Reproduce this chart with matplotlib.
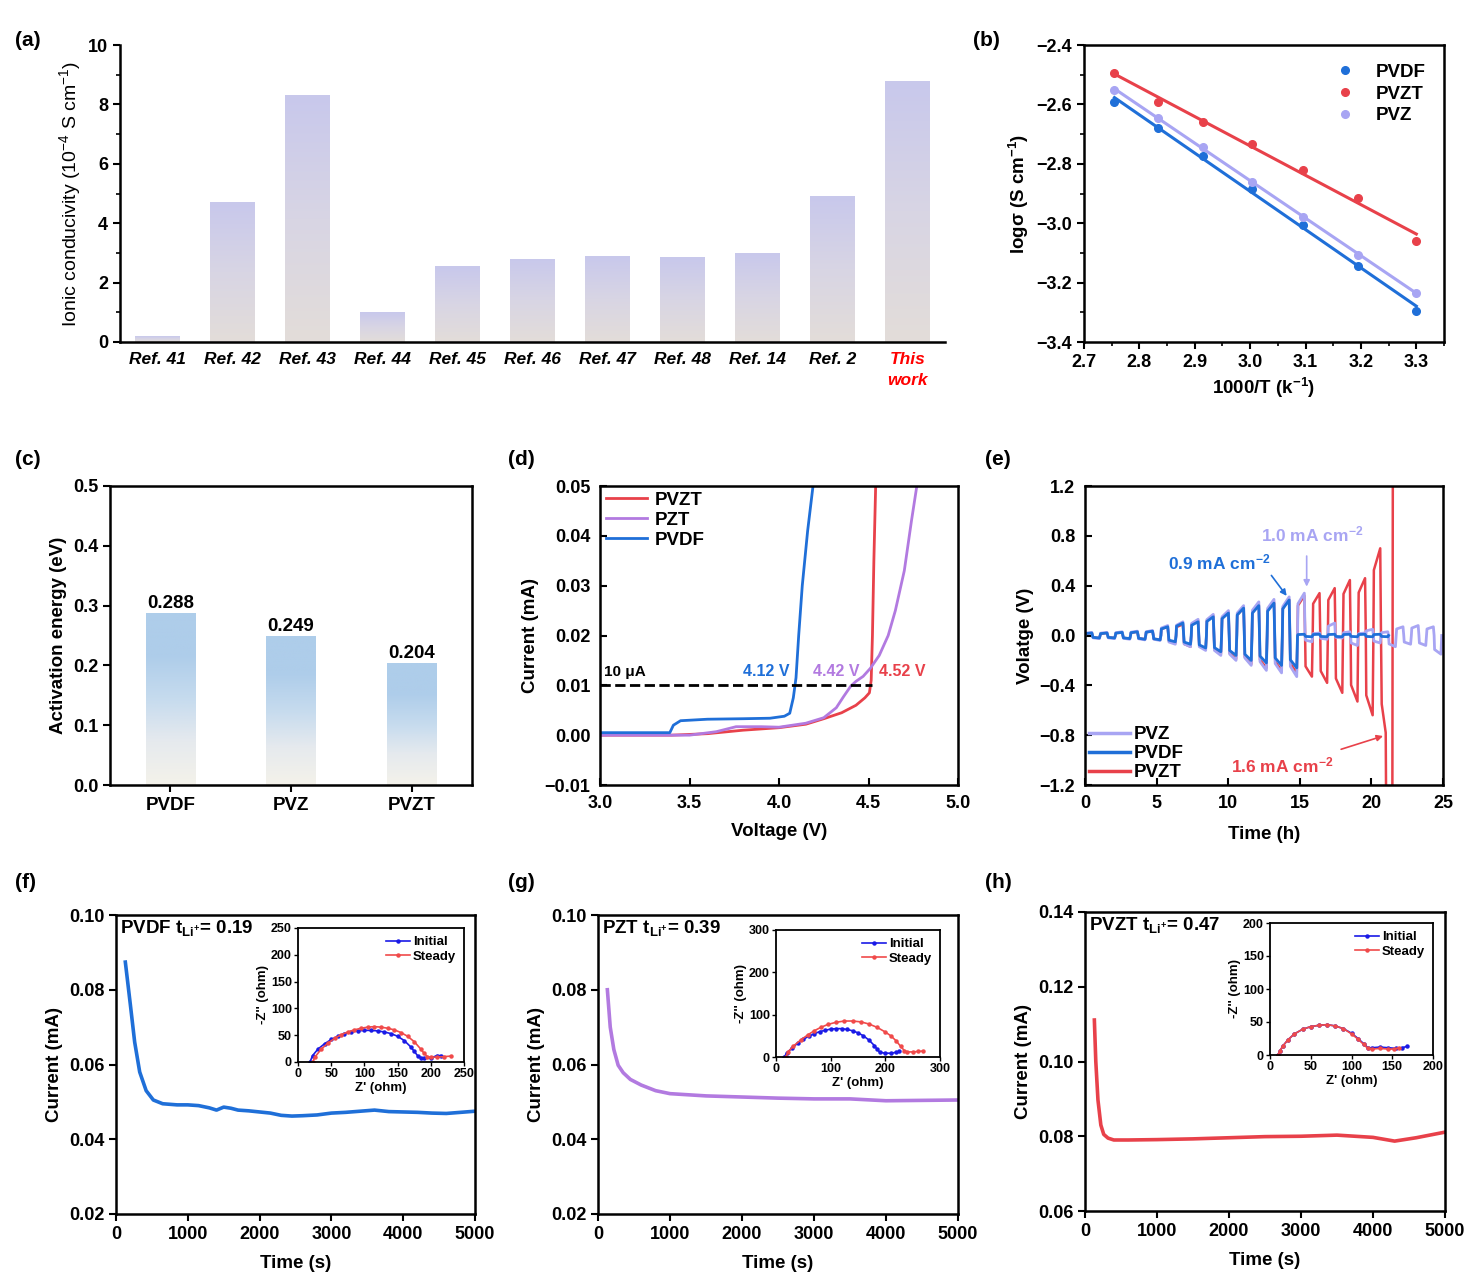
import numpy as np
import matplotlib
matplotlib.use("Agg")
import matplotlib.pyplot as plt
from matplotlib.colors import LinearSegmentedColormap
from matplotlib.ticker import MultipleLocator
from matplotlib.lines import Line2D

plt.rcParams['font.family'] = ['Liberation Sans', 'DejaVu Sans']
plt.rcParams['font.weight'] = 'bold'
plt.rcParams['axes.labelweight'] = 'bold'
plt.rcParams['mathtext.fontset'] = 'custom'
plt.rcParams['mathtext.rm'] = 'Liberation Sans'
plt.rcParams['mathtext.bf'] = 'Liberation Sans:bold'
plt.rcParams['mathtext.default'] = 'regular'
plt.rcParams['axes.linewidth'] = 1.8

BLUE = '#1f6fd8'
RED = '#e8414a'
LAV = '#a8a5f3'
PURPLE = '#b27ae0'

# ---- (a) ionic conductivity comparison ----
refs = ['Ref. 41', 'Ref. 42', 'Ref. 43', 'Ref. 44', 'Ref. 45', 'Ref. 46',
        'Ref. 47', 'Ref. 48', 'Ref. 14', 'Ref. 2', 'This\nwork']
conductivity = [0.2, 4.7, 8.3, 1.0, 2.55, 2.8, 2.9, 2.85, 3.0, 4.9, 8.8]

# ---- (b) Arrhenius plot ----
inv_T = [2.755, 2.833, 2.915, 3.003, 3.096, 3.195, 3.300]
log_pvdf = [-2.591, -2.681, -2.774, -2.885, -3.006, -3.143, -3.294]
log_pvzt = [-2.493, -2.593, -2.660, -2.733, -2.821, -2.915, -3.060]
log_pvz = [-2.552, -2.645, -2.742, -2.860, -2.980, -3.107, -3.234]

# ---- (c) activation energy ----
membranes = ['PVDF', 'PVZ', 'PVZT']
ea = [0.288, 0.249, 0.204]

# ---- (d) LSV ----
d_pvdf_v = [3.0, 3.39, 3.41, 3.45, 3.6, 3.8, 3.95, 4.03, 4.06, 4.08, 4.095, 4.11, 4.13, 4.16, 4.19]
d_pvdf_i = [0.0005, 0.0005, 0.0020, 0.0029, 0.0032, 0.0033, 0.0034, 0.0038, 0.0044, 0.0075, 0.0115,
            0.0200, 0.0300, 0.0410, 0.0500]
d_pzt_v = [3.0, 3.5, 3.65, 3.76, 3.9, 4.0, 4.15, 4.25, 4.32, 4.36, 4.40, 4.43, 4.47, 4.51, 4.56,
           4.61, 4.65, 4.70, 4.74, 4.77]
d_pzt_i = [0.0, 0.0, 0.0007, 0.0017, 0.0017, 0.0016, 0.0024, 0.0035, 0.0055, 0.0077, 0.0098, 0.0108,
           0.0118, 0.0134, 0.0160, 0.0200, 0.0250, 0.0330, 0.0430, 0.0500]
d_pvzt_v = [3.0, 3.4, 3.6, 3.8, 4.0, 4.15, 4.25, 4.35, 4.43, 4.48, 4.505, 4.515, 4.522, 4.53, 4.54]
d_pvzt_i = [0.0, 0.0, 0.0003, 0.0010, 0.0015, 0.0022, 0.0033, 0.0045, 0.0060, 0.0075, 0.0085, 0.0110,
            0.0200, 0.0350, 0.0500]
d_limit = 0.01
d_onsets = [4.12, 4.42, 4.52]

# ---- (e) rate test, signed amplitude of every half cycle (V) ----
e_half = 0.53
e_pvdf = [0.02, -0.02, 0.02, -0.02, 0.025, -0.025, 0.03, -0.03, 0.035, -0.035, 0.07, -0.05,
          0.10, -0.07, 0.11, -0.10, 0.15, -0.13, 0.18, -0.16, 0.22, -0.20, 0.24, -0.22,
          0.26, -0.24, 0.285, -0.26,
          0.01, -0.01, 0.01, -0.01, 0.01, -0.01, 0.01, -0.01, 0.01, -0.01, 0.01, -0.01]
e_pvz = [0.025, -0.025, 0.025, -0.025, 0.03, -0.03, 0.035, -0.035, 0.04, -0.04, 0.08, -0.07,
         0.11, -0.09, 0.13, -0.12, 0.17, -0.16, 0.20, -0.20, 0.24, -0.24, 0.27, -0.28,
         0.29, -0.30, 0.31, -0.33, 0.34,
         -0.05, 0.02, -0.03, 0.10, -0.02, 0.03, -0.08, 0.02, 0.05, -0.06, 0.03, -0.09,
         0.07, -0.07, 0.08, -0.08, 0.07, -0.15]
e_pvzt = [0.02, -0.02, 0.02, -0.02, 0.025, -0.025, 0.03, -0.03, 0.035, -0.035, 0.07, -0.06,
          0.09, -0.09, 0.12, -0.11, 0.16, -0.15, 0.19, -0.19, 0.22, -0.23, 0.25, -0.26,
          0.27, -0.28, 0.29, -0.30, 0.32, -0.33, 0.34, -0.38, 0.38, -0.46, 0.445, -0.53,
          0.46, -0.64, 0.70]
e_pvzt_tail_t = [20.67, 20.72, 21.0, 21.04, 21.46, 21.5]
e_pvzt_tail_v = [0.0, -0.55, -0.78, -1.6, -1.6, 1.6]

# ---- (f)-(h) polarization current ----
f_t = [130, 200, 260, 330, 420, 520, 650, 850, 1000, 1150, 1300, 1400, 1500, 1600, 1700, 1850,
       2000, 2150, 2300, 2450, 2600, 2800, 3000, 3200, 3400, 3600, 3800, 4000, 4200, 4400,
       4600, 4800, 5000]
f_i = [0.0874, 0.0760, 0.0660, 0.0580, 0.0530, 0.0505, 0.0495, 0.0492, 0.0492, 0.0490, 0.0484,
       0.0478, 0.0486, 0.0483, 0.0478, 0.0476, 0.0473, 0.0470, 0.0464, 0.0462, 0.0463, 0.0465,
       0.0470, 0.0472, 0.0475, 0.0478, 0.0474, 0.0473, 0.0472, 0.0470, 0.0469, 0.0472, 0.0475]
g_t = [130, 170, 220, 280, 350, 450, 600, 800, 1000, 1500, 2000, 2500, 3000, 3500, 4000, 4500, 5000]
g_i = [0.0800, 0.0700, 0.0640, 0.0598, 0.0578, 0.0560, 0.0545, 0.0530, 0.0522, 0.0516, 0.0513,
       0.0510, 0.0508, 0.0508, 0.0503, 0.0504, 0.0505]
h_t = [130, 150, 180, 220, 260, 320, 400, 600, 1000, 1500, 2000, 2500, 3000, 3500, 4000, 4300,
       4600, 5000]
h_i = [0.1111, 0.1000, 0.0897, 0.0830, 0.0805, 0.0795, 0.0790, 0.0790, 0.0791, 0.0793, 0.0796,
       0.0799, 0.0800, 0.0803, 0.0797, 0.0787, 0.0796, 0.0811]

# EIS insets
f_ini_x = [18, 22, 30, 40, 50, 60, 70, 80, 90, 100, 110, 120, 130, 140, 150, 160, 170, 175, 180,
           185, 190, 200, 210, 215]
f_ini_y = [0, 12, 24, 34, 42, 48, 53, 56, 58, 59, 59, 58, 56, 53, 48, 40, 28, 20, 12, 8, 7, 8, 12, 12]
f_sty_x = [22, 26, 35, 45, 55, 65, 75, 85, 95, 105, 115, 125, 135, 145, 155, 165, 175, 185, 190,
           195, 200, 210, 220, 230]
f_sty_y = [0, 10, 24, 35, 44, 51, 56, 60, 63, 65, 66, 65, 63, 60, 55, 48, 38, 24, 16, 10, 9, 9, 10, 11]
g_ini_x = [15, 20, 30, 40, 50, 60, 70, 80, 90, 100, 110, 120, 130, 140, 150, 160, 170, 180, 185,
           190, 200, 210, 220, 225]
g_ini_y = [0, 10, 22, 33, 42, 49, 55, 60, 63, 66, 67, 67, 65, 62, 57, 50, 40, 27, 18, 11, 9, 9, 11, 13]
g_sty_x = [18, 22, 32, 45, 58, 70, 82, 95, 110, 125, 140, 155, 170, 185, 200, 210, 220, 228, 235,
           240, 250, 260, 268]
g_sty_y = [0, 12, 26, 40, 52, 62, 70, 77, 82, 85, 85, 83, 78, 70, 59, 50, 38, 25, 15, 12, 12, 13, 14]
h_ini_x = [10, 12, 16, 22, 30, 40, 50, 60, 70, 80, 90, 100, 108, 115, 120, 125, 135, 145, 155, 162, 168]
h_ini_y = [0, 6, 14, 23, 32, 39, 43, 45, 46, 44, 40, 33, 25, 17, 11, 11, 12, 11, 10, 11, 13]
h_sty_x = [10, 12, 16, 22, 30, 40, 50, 60, 70, 80, 90, 100, 108, 115, 120, 125, 135, 145, 152, 158]
h_sty_y = [0, 6, 14, 23, 32, 39, 43, 45, 46, 44, 40, 32, 24, 16, 10, 9, 10, 9, 9, 11]

W, H = 1471, 1284
fig = plt.figure(figsize=(W / 100, H / 100), dpi=100)


def px_axes(x0, y0, x1, y1):
    return fig.add_axes([x0 / W, 1 - y1 / H, (x1 - x0) / W, (y1 - y0) / H])


def gradient_bars(ax, bars, colors):
    cmap = LinearSegmentedColormap.from_list('grad', colors)
    grad = np.linspace(0, 1, 256).reshape(-1, 1)
    for b in bars:
        x0, w, h = b.get_x(), b.get_width(), b.get_height()
        im = ax.imshow(grad, extent=[x0, x0 + w, 0, h], origin='lower', cmap=cmap,
                       aspect='auto', zorder=1)
        im.set_clip_path(b)
        b.set_facecolor('none')
        b.set_edgecolor('none')


def square_wave(amps, half):
    # one rounded square pulse per half cycle
    frac = [0.0, 0.06, 0.5, 0.9, 1.0]
    shape = [0.0, 0.75, 0.88, 1.0, 0.0]
    t, v = [], []
    for k, a in enumerate(amps):
        for f, s in zip(frac, shape):
            t.append((k + f) * half)
            v.append(a * s)
    return np.array(t), np.array(v)


def style(ax, size=12.5, direction='out'):
    pad = 7 if direction == 'in' else 3.5
    ax.tick_params(labelsize=size, width=1.5, length=5, direction=direction, pad=pad)
    ax.tick_params(which='minor', width=1.2, length=3, direction=direction)


LABEL = 13.5

# (a)
ax = px_axes(120, 45, 945, 342)
pos = np.arange(len(refs))
bars = ax.bar(pos, conductivity, width=0.6)
gradient_bars(ax, bars, ['#e3ddd9', '#d8d5e4', '#c8c8ec'])
ax.set_xlim(-0.5, len(refs) - 0.5)
ax.set_ylim(0, 10)
ax.spines['top'].set_visible(False)
ax.spines['right'].set_visible(False)
ax.set_xticks(pos, refs)
ax.yaxis.set_major_locator(MultipleLocator(2))
ax.yaxis.set_minor_locator(MultipleLocator(1))
style(ax, 13)
ax.tick_params(axis='x', length=0, pad=7, labelsize=12.5)
for lab in ax.get_xticklabels():
    lab.set_style('italic')
    lab.set_linespacing(1.5)
ax.get_xticklabels()[-1].set_color('red')
ax.set_ylabel('Ionic conducivity (10$^{-4}$ S cm$^{-1}$)', fontsize=14, fontweight='normal')

# (b)
ax = px_axes(1084, 45, 1444, 342)
for ys, c, name in [(log_pvdf, BLUE, 'PVDF'), (log_pvzt, RED, 'PVZT'), (log_pvz, LAV, 'PVZ')]:
    ax.plot(inv_T, ys, 'o', color=c, ms=5.5, label=name, zorder=3)
    k, b0 = np.polyfit(inv_T, ys, 1)
    xf = np.array([inv_T[0], inv_T[-1]])
    ax.plot(xf, k * xf + b0, '-', color=c, lw=2.2)
ax.set_xlim(2.7, 3.35)
ax.set_ylim(-3.4, -2.4)
ax.xaxis.set_major_locator(MultipleLocator(0.1))
ax.xaxis.set_minor_locator(MultipleLocator(0.05))
ax.yaxis.set_major_locator(MultipleLocator(0.2))
ax.yaxis.set_minor_locator(MultipleLocator(0.1))
style(ax, 13)
ax.set_xlabel('1000/T (k$^{-1}$)', fontsize=LABEL)
ax.set_ylabel('logσ (S cm$^{-1}$)', fontsize=LABEL)
ax.legend(loc='upper right', frameon=False, fontsize=13.5, handletextpad=0.6,
          labelspacing=0.25, borderaxespad=0.6)

# (c)
ax = px_axes(110, 486, 472, 785)
pos = np.arange(len(membranes))
bars = ax.bar(pos, ea, width=0.41)
gradient_bars(ax, bars, ['#f4f2ea', '#e6eaee', '#c6dbee', '#aecdea', '#aecdea'])
for x, v in zip(pos, ea):
    ax.text(x, v + 0.002, f'{v:.3f}', ha='center', va='bottom', fontsize=13.5)
ax.set_xlim(-0.5, 2.5)
ax.set_ylim(0, 0.5)
ax.set_xticks(pos, membranes)
ax.yaxis.set_major_locator(MultipleLocator(0.1))
style(ax, 13)
ax.tick_params(axis='x', labelsize=13.5)
ax.set_ylabel('Activation energy (eV)', fontsize=LABEL)

# (d)
ax = px_axes(600, 486, 958, 785)
ax.plot(d_pvzt_v, d_pvzt_i, color=RED, lw=2, label='PVZT')
ax.plot(d_pzt_v, d_pzt_i, color=PURPLE, lw=2, label='PZT')
ax.plot(d_pvdf_v, d_pvdf_i, color=BLUE, lw=2, label='PVDF')
ax.plot([d_pvdf_v[0], d_onsets[2]], [d_limit, d_limit], '--', color='black', lw=2)
ax.text(3.02, d_limit + 0.0012, '10 μA', fontsize=11, va='bottom')
ax.text(d_onsets[0] - 0.19, d_limit + 0.0012, f'{d_onsets[0]:.2f} V', color=BLUE,
        fontsize=11.5, ha='center', va='bottom')
ax.text(d_onsets[1] - 0.1, d_limit + 0.0012, f'{d_onsets[1]:.2f} V', color=PURPLE,
        fontsize=11.5, ha='center', va='bottom')
ax.text(d_onsets[2] + 0.17, d_limit + 0.0012, f'{d_onsets[2]:.2f} V', color=RED,
        fontsize=11.5, ha='center', va='bottom')
ax.set_xlim(3.0, 5.0)
ax.set_ylim(-0.01, 0.05)
ax.xaxis.set_major_locator(MultipleLocator(0.5))
ax.yaxis.set_major_locator(MultipleLocator(0.01))
style(ax, 13, 'in')
ax.set_xlabel('Voltage (V)', fontsize=LABEL, labelpad=8)
ax.set_ylabel('Current (mA)', fontsize=LABEL)
ax.legend(loc='upper left', frameon=False, fontsize=13.5, handlelength=2.2,
          handletextpad=0.4, labelspacing=0.15, borderaxespad=0.1, borderpad=0.2)

# (e)
ax = px_axes(1085, 486, 1443, 785)
t_r, v_r = square_wave(e_pvzt, e_half)
t_r = np.concatenate([t_r, e_pvzt_tail_t])
v_r = np.concatenate([v_r, e_pvzt_tail_v])
t_z, v_z = square_wave(e_pvz, e_half)
t_b, v_b = square_wave(e_pvdf, e_half)
ax.plot(t_r, v_r, color=RED, lw=1.8)
ax.plot(t_z, v_z, color=LAV, lw=2.0)
ax.plot(t_b, v_b, color=BLUE, lw=2.0)
ax.annotate('', xy=(14.2, 0.30), xytext=(12.9, 0.50),
            arrowprops=dict(arrowstyle='-|>', color=BLUE, lw=1.2, mutation_scale=9))
ax.text(9.4, 0.59, '0.9 mA cm$^{-2}$', color=BLUE, fontsize=12.5, ha='center', va='center')
ax.annotate('', xy=(15.48, 0.37), xytext=(15.48, 0.66),
            arrowprops=dict(arrowstyle='-|>', color=LAV, lw=1.2, mutation_scale=9))
ax.text(15.9, 0.81, '1.0 mA cm$^{-2}$', color=LAV, fontsize=12.5, ha='center', va='center')
ax.annotate('', xy=(21.0, -0.80), xytext=(17.7, -0.92),
            arrowprops=dict(arrowstyle='-|>', color=RED, lw=1.2, mutation_scale=9))
ax.text(13.75, -1.04, '1.6 mA cm$^{-2}$', color=RED, fontsize=12.5, ha='center', va='center')
ax.set_xlim(0, 25)
ax.set_ylim(-1.2, 1.2)
ax.xaxis.set_major_locator(MultipleLocator(5))
ax.yaxis.set_major_locator(MultipleLocator(0.4))
ax.yaxis.set_major_formatter(lambda v, p: f'{v:.1f}'.replace('-', '\u2212'))
style(ax, 13, 'in')
ax.set_xlabel('Time (h)', fontsize=LABEL, labelpad=10)
ax.set_ylabel('Volatge (V)', fontsize=LABEL)
handles = [Line2D([], [], color=LAV, lw=2.5), Line2D([], [], color=BLUE, lw=2.5),
           Line2D([], [], color=RED, lw=2.5)]
ax.legend(handles, ['PVZ', 'PVDF', 'PVZT'], loc='lower left', frameon=False, fontsize=13.5,
          handlelength=2.2, handletextpad=0.2, labelspacing=0.1, borderaxespad=0.1, borderpad=0.1)

# (f)-(h)
panels = [
    ((116, 915, 475, 1214), f_t, f_i, BLUE, (0.02, 0.10), 'PVDF t$_{Li^{+}}$= 0.19',
     (298, 928, 464, 1062), (f_ini_x, f_ini_y, f_sty_x, f_sty_y), 250, 50),
    ((598, 915, 958, 1214), g_t, g_i, PURPLE, (0.02, 0.10), 'PZT t$_{Li^{+}}$= 0.39',
     (776, 930, 940, 1057), (g_ini_x, g_ini_y, g_sty_x, g_sty_y), 300, 100),
    ((1085, 912, 1445, 1211), h_t, h_i, RED, (0.06, 0.14), 'PVZT t$_{Li^{+}}$= 0.47',
     (1270, 923, 1433, 1055), (h_ini_x, h_ini_y, h_sty_x, h_sty_y), 200, 50),
]
for box, tt, ii, col, ylim, txt, ibox, eis, zmax, zstep in panels:
    ax = px_axes(*box)
    ax.plot(tt, ii, color=col, lw=2.6)
    ax.set_xlim(0, 5000)
    ax.set_ylim(*ylim)
    ax.xaxis.set_major_locator(MultipleLocator(1000))
    ax.yaxis.set_major_locator(MultipleLocator(0.02))
    style(ax, 13)
    ax.set_xlabel('Time (s)', fontsize=LABEL, labelpad=9)
    ax.set_ylabel('Current (mA)', fontsize=LABEL)
    ax.text(0.01, 0.955, txt, transform=ax.transAxes, fontsize=13.5, va='center')

    ins = px_axes(*ibox)
    ins.plot(eis[0], eis[1], '-o', color='#1a1ae6', lw=1.2, ms=2.2, label='Initial')
    ins.plot(eis[2], eis[3], '-o', color='#f04a4a', lw=1.2, ms=2.2, label='Steady')
    ins.set_xlim(0, zmax)
    ins.set_ylim(0, zmax)
    ins.xaxis.set_major_locator(MultipleLocator(zstep))
    ins.yaxis.set_major_locator(MultipleLocator(zstep))
    for s in ins.spines.values():
        s.set_linewidth(1.3)
    ins.tick_params(labelsize=9, width=1, length=3, pad=1.5)
    ins.set_xlabel("Z' (ohm)", fontsize=9.5, labelpad=1)
    ins.set_ylabel("-Z'' (ohm)", fontsize=9.5, labelpad=1)
    ins.legend(loc='upper right', frameon=False, fontsize=9.5, handlelength=1.8,
               handletextpad=0.2, labelspacing=0.2, borderaxespad=0.2)

# panel letters
for lab, x, y in [('(a)', 15, 40), ('(b)', 973, 40), ('(c)', 15, 460), ('(d)', 508, 460),
                  ('(e)', 985, 460), ('(f)', 15, 883), ('(g)', 508, 883), ('(h)', 985, 883)]:
    fig.text(x / W, 1 - y / H, lab, fontsize=15, va='center', ha='left')

fig.savefig('out.png', dpi=100)
